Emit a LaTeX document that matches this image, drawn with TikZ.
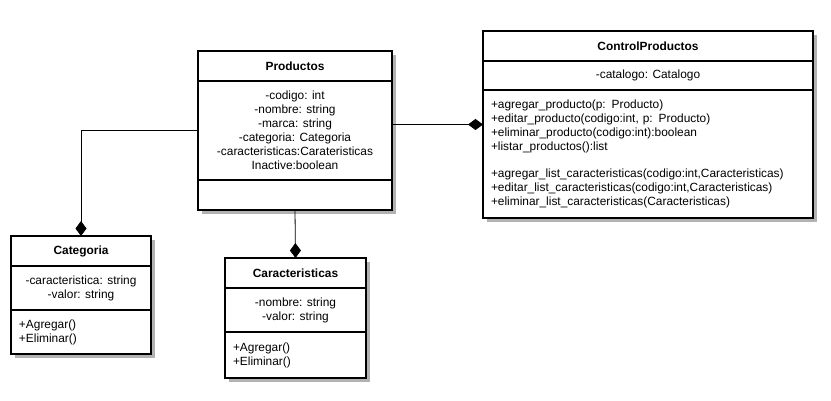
\documentclass[tikz,border=0pt]{standalone}
\usepackage{fontspec}
\setmainfont{Liberation Sans}
\usetikzlibrary{positioning,shadows,arrows.meta}
\newcommand\letra{\fontsize{11.9}{14}\selectfont}
\tikzset{
  seccion/.style={draw, fill=white, line width=1.5pt, inner sep=0pt, outer sep=0pt, font=\letra,
    drop shadow={shadow xshift=4pt, shadow yshift=-4pt, fill=black!30, opacity=1}},
  titulo/.style={seccion, font=\letra\bfseries},
  atributos/.style={seccion, align=center},
  metodos/.style={seccion, align=left, inner xsep=8pt},
  comp/.style={draw, line width=0.8pt, -{Diamond[length=15pt,width=11pt]}}
}
\begin{document}
\begin{tikzpicture}[x=1pt,y=-1pt]
\useasboundingbox (0,0) rectangle (831,401);

% Productos
\node[titulo, anchor=north west, minimum width=194pt, minimum height=30pt] (prod) at (198,51) {Productos};
\node[atributos, below=0pt of prod, minimum width=194pt, minimum height=99pt] (prodattr)
  {-codigo: int\\-nombre: string\\-marca: string\\-categoria: Categoria\\-caracteristicas:Carateristicas\\Inactive:boolean};
\node[metodos, below=0pt of prodattr, minimum width=194pt, minimum height=30pt] (prodmeth) {};

% ControlProductos
\node[titulo, anchor=north west, minimum width=330pt, minimum height=30pt] (cp) at (483,31) {ControlProductos};
\node[atributos, below=0pt of cp, minimum width=330pt, minimum height=29pt] (cpattr) {-catalogo: Catalogo};
\node[metodos, below=0pt of cpattr, text width=314pt, minimum height=128pt] (cpmeth)
  {+agregar\_producto(p: Producto)\\+editar\_producto(codigo:int, p: Producto)\\+eliminar\_producto(codigo:int):boolean\\+listar\_productos():list\\[13pt]+agregar\_list\_caracteristicas(codigo:int,Caracteristicas)\\+editar\_list\_caracteristicas(codigo:int,Caracteristicas)\\+eliminar\_list\_caracteristicas(Caracteristicas)};

% Categoria
\node[titulo, anchor=north west, minimum width=140pt, minimum height=30pt] (cat) at (11,236) {Categoria};
\node[atributos, below=0pt of cat, minimum width=140pt, minimum height=44pt] (catattr) {-caracteristica: string\\-valor: string};
\node[metodos, below=0pt of catattr, text width=124pt, minimum height=44pt] (catmeth) {+Agregar()\\+Eliminar()};

% Caracteristicas
\node[titulo, anchor=north west, minimum width=141pt, minimum height=30pt] (car) at (225,258) {Caracteristicas};
\node[atributos, below=0pt of car, minimum width=141pt, minimum height=44pt] (carattr) {-nombre: string\\-valor: string};
\node[metodos, below=0pt of carattr, text width=125pt, minimum height=46pt] (carmeth) {+Agregar()\\+Eliminar()};

% composiciones
\draw[comp] (prodattr.west) -| (cat.north);
\draw[comp] (prodmeth.south) -- (car.north);
\coordinate (enlace) at ([yshift=6pt]prodattr.east);
\draw[comp] (enlace) -- (enlace -| cpmeth.west);
\end{tikzpicture}
\end{document}
